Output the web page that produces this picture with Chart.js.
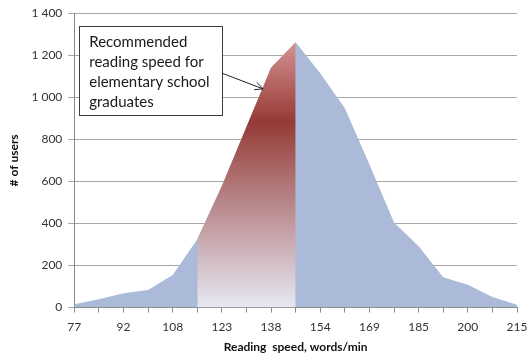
<!DOCTYPE html>
<html lang="en">
<head>
    <meta charset="UTF-8">
    <title>Reading speed distribution</title>
    <script src="https://cdn.jsdelivr.net/npm/chart.js"></script>
    <style>
        body {
            margin: 0;
            background: #fff;
        }
        #chart {
            display: block;
        }
    </style>
</head>
<body>
    <canvas id="chart" width="529" height="356"></canvas>
    <script>
        // reading speed, words/min (only every other one is labelled)
        const speeds = ['77', '85', '92', '100', '108', '115', '123', '131', '138', '146',
                        '154', '161', '169', '177', '185', '192', '200', '208', '215'];
        // number of users at each speed
        const users = [16, 40, 68, 84, 155, 325, 578, 860, 1140, 1262,
                       1115, 948, 680, 405, 292, 144, 109, 50, 13];
        // the recommended band, shown in red
        const recommendedFrom = 5;
        const recommendedTo = 9;
        const noteLines = ['Recommended', 'reading speed for', 'elementary school', 'graduates'];
        const notePointsTo = 8;

        const recommended = users.map((v, i) => (i >= recommendedFrom && i <= recommendedTo) ? v : null);

        function spaced(v) {
            return String(v).replace(/\B(?=(\d{3})+(?!\d))/g, ' ');
        }

        function redGradient(context) {
            const chart = context.chart;
            const area = chart.chartArea;
            if (!area) return '#a33f3c';
            const y = chart.scales.y;
            const top = y.getPixelForValue(Math.max(...recommended.filter(v => v !== null)));
            const bottom = y.getPixelForValue(0);
            const g = chart.ctx.createLinearGradient(0, top, 0, bottom);
            g.addColorStop(0, '#d69292');
            g.addColorStop(0.3, '#953a36');
            g.addColorStop(1, '#e6e9f4');
            return g;
        }

        // callout box with an arrow to the curve
        const callout = {
            id: 'callout',
            afterDatasetsDraw(chart) {
                const ctx = chart.ctx;
                const x = chart.scales.x;
                const y = chart.scales.y;
                const left = x.getPixelForValue(0.2);
                const right = x.getPixelForValue(6);
                const top = y.getPixelForValue(1340);
                const bottom = y.getPixelForValue(915);
                ctx.save();
                ctx.fillStyle = '#fff';
                ctx.fillRect(left, top, right - left, bottom - top);
                ctx.strokeStyle = '#3c3c3c';
                ctx.lineWidth = 1;
                ctx.strokeRect(Math.round(left) + 0.5, Math.round(top) + 0.5, Math.round(right - left), Math.round(bottom - top));
                ctx.fillStyle = '#1a1a1a';
                ctx.font = '15px Lato';
                ctx.textBaseline = 'middle';
                noteLines.forEach((line, i) => {
                    ctx.fillText(line, left + 10, top + 16 + i * 20);
                });
                // arrow
                const x0 = right;
                const y0 = y.getPixelForValue(1115);
                const x1 = x.getPixelForValue(notePointsTo) - 8;
                const y1 = y.getPixelForValue(1040);
                ctx.beginPath();
                ctx.moveTo(x0, y0);
                ctx.lineTo(x1, y1);
                const a = Math.atan2(y1 - y0, x1 - x0);
                ctx.moveTo(x1 - 9 * Math.cos(a - 0.45), y1 - 9 * Math.sin(a - 0.45));
                ctx.lineTo(x1, y1);
                ctx.lineTo(x1 - 9 * Math.cos(a + 0.45), y1 - 9 * Math.sin(a + 0.45));
                ctx.strokeStyle = '#222';
                ctx.stroke();
                ctx.restore();
            }
        };

        new Chart(document.getElementById('chart'), {
            type: 'line',
            data: {
                labels: speeds,
                datasets: [
                    {
                        data: recommended,
                        backgroundColor: redGradient,
                        borderWidth: 0,
                        pointRadius: 0,
                        fill: 'origin',
                        order: 0
                    },
                    {
                        data: users,
                        backgroundColor: '#aabad8',
                        borderWidth: 0,
                        pointRadius: 0,
                        fill: 'origin',
                        order: 1
                    }
                ]
            },
            options: {
                responsive: false,
                animation: false,
                devicePixelRatio: 1,
                layout: { padding: { top: 8, right: 12, left: 7, bottom: 3 } },
                plugins: {
                    legend: { display: false },
                    tooltip: { enabled: false }
                },
                scales: {
                    x: {
                        offset: false,
                        afterFit: scale => { scale.paddingRight = 0; },
                        grid: { display: true, drawOnChartArea: false, drawTicks: true, tickLength: 5, color: '#888' },
                        border: { color: '#888' },
                        ticks: {
                            autoSkip: false,
                            maxRotation: 0,
                            color: '#333',
                            font: { family: 'Lato', size: 12 },
                            padding: 7,
                            callback: (v, i) => i % 2 === 0 ? speeds[i] : ''
                        },
                        title: {
                            display: true,
                            text: 'Reading  speed, words/min',
                            color: '#111',
                            font: { family: 'Lato', size: 12, weight: 'bold', lineHeight: 1 },
                            padding: { top: 0, bottom: 0 }
                        }
                    },
                    y: {
                        min: 0,
                        max: 1400,
                        ticks: {
                            stepSize: 200,
                            color: '#333',
                            font: { family: 'Lato', size: 12 },
                            padding: 6,
                            callback: v => spaced(v)
                        },
                        grid: { color: '#a6a6a6', tickLength: 6 },
                        border: { color: '#888' },
                        title: {
                            display: true,
                            text: '# of users',
                            color: '#111',
                            font: { family: 'Lato', size: 12, weight: 'bold' },
                            padding: { top: 0, bottom: 4 }
                        }
                    }
                }
            },
            plugins: [callout]
        });
    </script>
</body>
</html>
